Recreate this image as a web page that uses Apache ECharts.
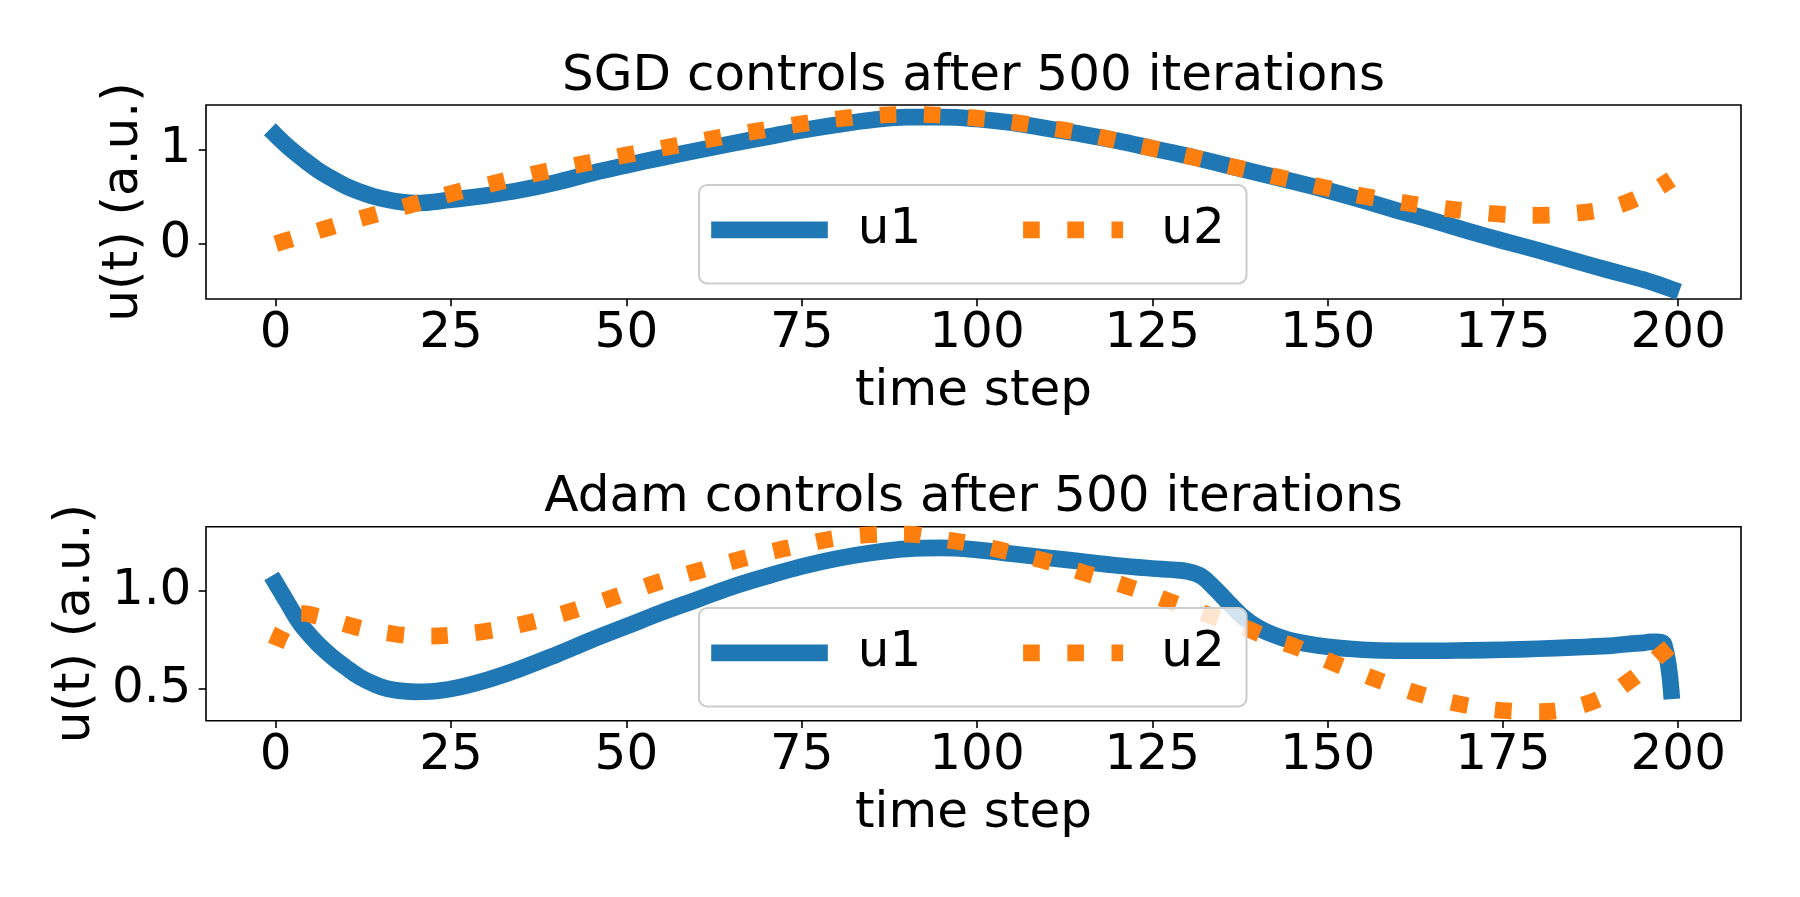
<!DOCTYPE html>
<html>
<head>
<meta charset="utf-8">
<script src="https://cdn.jsdelivr.net/npm/echarts@6.0.0/dist/echarts.min.js"></script>
<style>
  html, body { margin: 0; padding: 0; background: #fff; }
  #main { width: 1800px; height: 897px; }
</style>
</head>
<body>
<div id="main"></div>
<script>
// time steps
var sgdSteps = [0, 2, 4, 6, 8, 10, 12, 14, 16, 18, 20, 25, 30, 35, 40, 45, 50, 55, 60, 65, 70, 75, 80, 85, 90, 95,
  100, 105, 110, 115, 120, 125, 130, 135, 140, 145, 150, 155, 160, 165, 170, 175, 180, 185, 190, 195, 199];
var sgdU1 = [1.15, 1.01, 0.89, 0.78, 0.69, 0.61, 0.55, 0.50, 0.465, 0.44, 0.43, 0.465, 0.51, 0.57, 0.65, 0.745, 0.83, 0.91, 0.985, 1.06, 1.13, 1.2, 1.26, 1.31, 1.34, 1.34,
  1.32, 1.28, 1.22, 1.16, 1.09, 1.01, 0.93, 0.84, 0.75, 0.66, 0.565, 0.46, 0.35, 0.245, 0.135, 0.03, -0.07, -0.175, -0.28, -0.38, -0.48];
var sgdU2 = [0.0, 0.045, 0.09, 0.135, 0.18, 0.225, 0.265, 0.305, 0.345, 0.385, 0.425, 0.53, 0.62, 0.71, 0.79, 0.865, 0.94, 1.01, 1.08, 1.15, 1.21, 1.27, 1.32, 1.355, 1.37, 1.36,
  1.33, 1.29, 1.23, 1.17, 1.09, 1.01, 0.93, 0.84, 0.755, 0.67, 0.585, 0.505, 0.445, 0.39, 0.345, 0.31, 0.30, 0.32, 0.375, 0.51, 0.68];

// time steps
var adamSteps = [0, 1, 2, 3, 4, 6, 8, 10, 12, 14, 16, 18, 20, 22, 25, 30, 35, 40, 45, 50, 55, 60, 65, 70, 75, 80, 85, 90, 95,
  100, 105, 110, 115, 120, 125, 128, 130, 132, 134, 136, 138, 140, 142, 145, 150, 155, 160, 165, 170, 175, 180, 185, 190, 193, 195, 196, 197, 198, 199];
var adamU1 = [1.04, 0.98, 0.92, 0.86, 0.81, 0.73, 0.665, 0.61, 0.56, 0.525, 0.50, 0.49, 0.485, 0.487, 0.50, 0.545, 0.605, 0.675, 0.75, 0.82, 0.89, 0.955, 1.02, 1.075, 1.125, 1.165, 1.195, 1.215, 1.22,
  1.21, 1.19, 1.17, 1.15, 1.13, 1.115, 1.108, 1.10, 1.075, 1.01, 0.935, 0.865, 0.815, 0.78, 0.745, 0.715, 0.70, 0.695, 0.695, 0.697, 0.70, 0.705, 0.712, 0.72, 0.73, 0.735, 0.74, 0.74, 0.725, 0.49];
var adamU2 = [0.72, 0.80, 0.86, 0.885, 0.885, 0.87, 0.85, 0.83, 0.81, 0.795, 0.785, 0.775, 0.77, 0.77, 0.775, 0.795, 0.83, 0.875, 0.93, 0.99, 1.05, 1.10, 1.15, 1.195, 1.235, 1.27, 1.287, 1.29, 1.265,
  1.235, 1.195, 1.15, 1.095, 1.04, 0.98, 0.94, 0.915, 0.89, 0.865, 0.84, 0.815, 0.785, 0.755, 0.72, 0.645, 0.575, 0.51, 0.455, 0.415, 0.39, 0.384, 0.405, 0.47, 0.54, 0.595, 0.625, 0.66, 0.69, 0.72];

var xTicks = [0, 25, 50, 75, 100, 125, 150, 175, 200];
var sgdYTicks = [0, 1];
var adamYTicks = [0.5, 1.0];

var FONT = 'DejaVu Sans';
var BLUE = '#1f77b4';
var ORANGE = '#ff7f0e';
var LW = 16.67;

// legend handles, both in a 116.6 x 16.67 box: thick bar for u1, three square dots for u2
// (the two zero-area bits in ICON_U2 only pin its bounding box)
var ICON_U1 = 'path://M0,0H116.6V16.67H0Z';
var ICON_U2 = 'path://M0,8.3L0.01,8.3L0,8.3Z M8.4,0h16.67v16.67h-16.67Z M52.6,0h16.67v16.67h-16.67Z M96.8,0h11.6v16.67h-11.6Z M116.59,8.3L116.6,8.3L116.59,8.3Z';

function pairs(ts, vs) {
  return ts.map(function (t, i) { return [t, vs[i]]; });
}

function xAxisFor(gi) {
  return {
    type: 'value', gridIndex: gi, min: -9.95, max: 208.95,
    name: 'time step', nameLocation: 'middle', nameGap: 68,
    nameTextStyle: { fontFamily: FONT, fontSize: 50, color: '#000', lineHeight: 50 },
    axisLine: { show: false, onZero: false },
    axisTick: { show: true, length: 7.3, customValues: xTicks, lineStyle: { color: '#000', width: 1.6 } },
    axisLabel: { customValues: xTicks, margin: 10, fontFamily: FONT, fontSize: 50, color: '#000', lineHeight: 50 },
    splitLine: { show: false }
  };
}

function yAxisFor(gi, min, max, ticks, dec, gap) {
  return {
    type: 'value', gridIndex: gi, min: min, max: max,
    name: 'u(t) (a.u.)', nameLocation: 'middle', nameGap: gap, nameRotate: 90,
    nameTextStyle: { fontFamily: FONT, fontSize: 50, color: '#000', lineHeight: 50 },
    axisLine: { show: false, onZero: false },
    axisTick: { show: true, length: 7.3, customValues: ticks, lineStyle: { color: '#000', width: 1.6 } },
    axisLabel: {
      customValues: ticks, margin: 14.6, fontFamily: FONT, fontSize: 50, color: '#000', lineHeight: 50,
      formatter: function (v) { return v.toFixed(dec); }
    },
    splitLine: { show: false }
  };
}

function lineSeries(name, gi, data, color, dashed) {
  return {
    name: name, type: 'line', xAxisIndex: gi, yAxisIndex: gi,
    data: data, symbol: 'none', smooth: 0.4,
    color: color,
    lineStyle: {
      color: color, width: LW,
      type: dashed ? [LW, LW * 1.65] : 'solid',
      cap: dashed ? 'butt' : 'square', join: 'round'
    },
    emphasis: { disabled: true },
    animation: false
  };
}

function legendAt(top) {
  return {
    left: 699, top: top, orient: 'horizontal',
    data: [{ name: 'u1', icon: ICON_U1 }, { name: 'u2', icon: ICON_U2 }],
    itemWidth: 116.6, itemHeight: 16.67, itemGap: 93.4,
    padding: [15.8, 21.7, 24.6, 12.2],
    backgroundColor: 'rgba(255,255,255,0.8)',
    borderColor: '#cccccc', borderWidth: 2, borderRadius: 8,
    textStyle: { fontFamily: FONT, fontSize: 50, color: '#000', lineHeight: 58, padding: [0, 0, 0, 25] },
    selectedMode: false
  };
}

var chart = echarts.init(document.getElementById('main'), null, { renderer: 'canvas' });
chart.setOption({
  backgroundColor: '#fff',
  animation: false,
  title: [
    { text: 'SGD controls after 500 iterations', left: 973.5, top: 52, textAlign: 'center', padding: 0,
      textStyle: { fontFamily: FONT, fontSize: 50, fontWeight: 'normal', color: '#000', lineHeight: 50 } },
    { text: 'Adam controls after 500 iterations', left: 973.5, top: 473.5, textAlign: 'center', padding: 0,
      textStyle: { fontFamily: FONT, fontSize: 50, fontWeight: 'normal', color: '#000', lineHeight: 50 } }
  ],
  legend: [legendAt(185), legendAt(608)],
  grid: [
    { left: 206, top: 105, width: 1535, height: 194, show: true, borderColor: '#000', borderWidth: 1.6, backgroundColor: 'transparent' },
    { left: 206, top: 526.7, width: 1535, height: 194, show: true, borderColor: '#000', borderWidth: 1.6, backgroundColor: 'transparent' }
  ],
  xAxis: [xAxisFor(0), xAxisFor(1)],
  yAxis: [
    yAxisFor(0, -0.586, 1.469, sgdYTicks, 0, 55),
    yAxisFor(1, 0.338, 1.328, adamYTicks, 1, 103)
  ],
  series: [
    lineSeries('u1', 0, pairs(sgdSteps, sgdU1), BLUE, false),
    lineSeries('u2', 0, pairs(sgdSteps, sgdU2), ORANGE, true),
    lineSeries('u1', 1, pairs(adamSteps, adamU1), BLUE, false),
    lineSeries('u2', 1, pairs(adamSteps, adamU2), ORANGE, true)
  ]
});
</script>
</body>
</html>
